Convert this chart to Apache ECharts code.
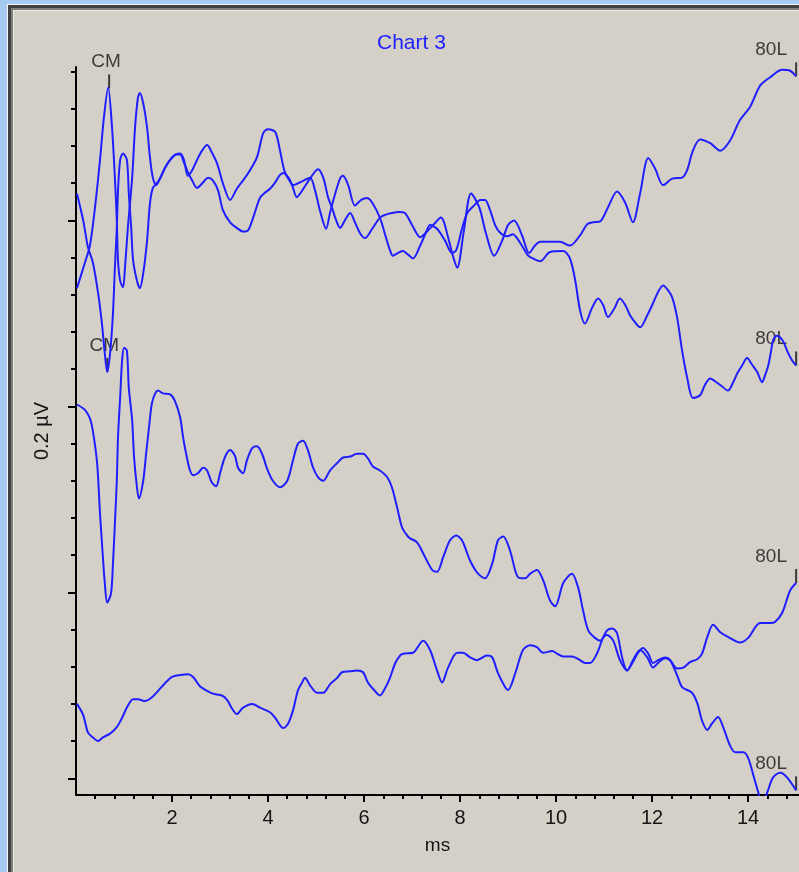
<!DOCTYPE html>
<html>
<head>
<meta charset="utf-8">
<title>Chart 3</title>
<script src="https://cdn.jsdelivr.net/npm/echarts@6/dist/echarts.min.js"></script>
<style>
  html, body { margin: 0; padding: 0; }
  body { width: 799px; height: 872px; overflow: hidden; position: relative; background: #a6caf0; }
  #frame {
    position: absolute; left: 8px; top: 5px; width: 830px; height: 900px;
    background: #d4d0c8;
    border-left: 3px solid #404040; border-top: 3px solid #404040;
    box-shadow: -1px -1px 0 #f4f4f4, inset 2px 2px 0 #808080, inset 3px 3px 0 #ebe9e4;
  }
  #chartBox { position: absolute; left: 0; top: 0; width: 799px; height: 872px; z-index: 1; }
</style>
</head>
<body>
<div id="frame"></div>
<div id="chartBox"></div>
<script>
// time in ms, amplitude in µV (one major division = 0.2 µV)
const traceA = [
  [0.02, 0.527], [0.17, 0.552], [0.29, 0.573], [0.40, 0.616], [0.50, 0.665], [0.58, 0.710], [0.67, 0.743],
  [0.75, 0.700], [0.81, 0.646], [0.85, 0.600], [0.875, 0.557], [0.92, 0.535], [0.98, 0.528], [1.02, 0.549],
  [1.08, 0.592], [1.17, 0.646], [1.23, 0.700], [1.29, 0.732], [1.33, 0.737], [1.40, 0.726], [1.48, 0.700],
  [1.54, 0.668], [1.60, 0.646], [1.67, 0.638], [1.75, 0.645], [1.85, 0.656], [1.96, 0.665], [2.08, 0.671],
  [2.17, 0.672], [2.25, 0.665], [2.33, 0.648], [2.42, 0.654], [2.52, 0.665], [2.625, 0.675], [2.73, 0.681],
  [2.83, 0.673], [2.94, 0.661], [3.06, 0.640], [3.21, 0.622], [3.35, 0.634], [3.48, 0.643], [3.625, 0.654],
  [3.77, 0.668], [3.90, 0.694], [4.0, 0.698], [4.15, 0.695], [4.25, 0.675], [4.35, 0.652], [4.5, 0.638],
  [4.60, 0.625], [4.71, 0.632], [4.875, 0.645], [5.04, 0.655], [5.15, 0.646], [5.25, 0.625], [5.33, 0.614],
  [5.42, 0.600], [5.5, 0.592], [5.60, 0.600], [5.71, 0.608], [5.81, 0.598], [5.92, 0.586], [6.02, 0.581],
  [6.17, 0.591], [6.33, 0.603], [6.44, 0.606], [6.58, 0.608], [6.73, 0.609], [6.85, 0.608], [7.0, 0.595],
  [7.17, 0.582], [7.29, 0.587], [7.44, 0.595], [7.60, 0.603], [7.77, 0.578], [7.85, 0.562], [7.94, 0.549],
  [8.08, 0.589], [8.23, 0.629], [8.40, 0.614], [8.54, 0.586], [8.71, 0.562], [8.875, 0.578], [9.0, 0.595],
  [9.125, 0.600], [9.29, 0.584], [9.44, 0.565], [9.56, 0.573], [9.67, 0.577], [9.875, 0.577], [10.08, 0.577],
  [10.29, 0.573], [10.5, 0.584], [10.65, 0.596], [10.77, 0.598], [10.92, 0.599], [11.08, 0.614], [11.27, 0.631],
  [11.44, 0.619], [11.60, 0.598], [11.75, 0.629], [11.92, 0.667], [12.06, 0.656], [12.23, 0.638], [12.42, 0.645],
  [12.625, 0.646], [12.73, 0.654], [12.85, 0.675], [13.0, 0.687], [13.21, 0.683], [13.42, 0.675], [13.625, 0.686],
  [13.83, 0.708], [14.04, 0.722], [14.25, 0.745], [14.46, 0.754], [14.71, 0.762], [14.875, 0.761], [15.0, 0.755]
];
const traceB = [
  [0.02, 0.629], [0.15, 0.600], [0.25, 0.571], [0.35, 0.555], [0.46, 0.522], [0.54, 0.489], [0.60, 0.457],
  [0.65, 0.437], [0.71, 0.457], [0.77, 0.500], [0.81, 0.549], [0.85, 0.592], [0.875, 0.632], [0.92, 0.665],
  [0.98, 0.672], [1.06, 0.665], [1.10, 0.629], [1.15, 0.592], [1.19, 0.557], [1.27, 0.535], [1.33, 0.527],
  [1.40, 0.543], [1.48, 0.578], [1.54, 0.618], [1.60, 0.635], [1.67, 0.639], [1.75, 0.645], [1.85, 0.656],
  [1.96, 0.665], [2.08, 0.671], [2.17, 0.671], [2.25, 0.662], [2.33, 0.652], [2.42, 0.643], [2.52, 0.635],
  [2.65, 0.641], [2.75, 0.646], [2.85, 0.643], [2.96, 0.632], [3.06, 0.611], [3.21, 0.598], [3.35, 0.592],
  [3.48, 0.588], [3.58, 0.589], [3.69, 0.603], [3.83, 0.624], [3.94, 0.630], [4.04, 0.634], [4.15, 0.641],
  [4.25, 0.649], [4.33, 0.651], [4.44, 0.645], [4.52, 0.638], [4.67, 0.641], [4.875, 0.646], [4.98, 0.632],
  [5.08, 0.611], [5.21, 0.591], [5.29, 0.608], [5.40, 0.629], [5.5, 0.645], [5.56, 0.648], [5.67, 0.638],
  [5.81, 0.616], [5.94, 0.622], [6.06, 0.624], [6.17, 0.619], [6.33, 0.603], [6.46, 0.581], [6.54, 0.568],
  [6.60, 0.562], [6.71, 0.565], [6.81, 0.567], [6.92, 0.563], [7.02, 0.559], [7.17, 0.573], [7.29, 0.587],
  [7.375, 0.595], [7.52, 0.591], [7.69, 0.578], [7.83, 0.565], [7.92, 0.568], [8.04, 0.591], [8.15, 0.608],
  [8.31, 0.617], [8.42, 0.622], [8.52, 0.622], [8.625, 0.611], [8.73, 0.595], [8.83, 0.587], [8.98, 0.583],
  [9.10, 0.585], [9.25, 0.576], [9.42, 0.562], [9.52, 0.559], [9.67, 0.556], [9.875, 0.566], [10.15, 0.567],
  [10.29, 0.559], [10.40, 0.535], [10.5, 0.503], [10.60, 0.489], [10.75, 0.506], [10.875, 0.516], [10.98, 0.509],
  [11.08, 0.496], [11.21, 0.505], [11.33, 0.516], [11.44, 0.509], [11.54, 0.498], [11.65, 0.490], [11.75, 0.485],
  [11.90, 0.498], [12.02, 0.511], [12.125, 0.523], [12.23, 0.530], [12.33, 0.525], [12.42, 0.517], [12.52, 0.496],
  [12.625, 0.460], [12.73, 0.431], [12.85, 0.409], [13.0, 0.412], [13.10, 0.423], [13.21, 0.430], [13.31, 0.427],
  [13.42, 0.423], [13.58, 0.417], [13.69, 0.426], [13.77, 0.435], [13.875, 0.444], [13.98, 0.452], [14.08, 0.445],
  [14.19, 0.437], [14.29, 0.426], [14.35, 0.433], [14.42, 0.444], [14.48, 0.460], [14.52, 0.471], [14.60, 0.476],
  [14.67, 0.474], [14.75, 0.468], [14.81, 0.460], [14.92, 0.449], [15.0, 0.444]
];
const traceC = [
  [0.02, 0.402], [0.19, 0.396], [0.29, 0.387], [0.35, 0.374], [0.44, 0.339], [0.50, 0.285], [0.56, 0.238],
  [0.60, 0.210], [0.65, 0.189], [0.73, 0.199], [0.77, 0.231], [0.81, 0.274], [0.85, 0.320], [0.875, 0.367],
  [0.92, 0.410], [0.96, 0.449], [1.0, 0.463], [1.06, 0.460], [1.10, 0.420], [1.17, 0.385], [1.21, 0.345],
  [1.27, 0.313], [1.31, 0.301], [1.40, 0.320], [1.46, 0.349], [1.52, 0.377], [1.58, 0.403], [1.65, 0.414],
  [1.71, 0.417], [1.81, 0.414], [1.96, 0.413], [2.06, 0.406], [2.17, 0.388], [2.23, 0.367], [2.31, 0.345],
  [2.375, 0.331], [2.44, 0.326], [2.54, 0.328], [2.65, 0.334], [2.73, 0.331], [2.83, 0.318], [2.92, 0.314],
  [3.0, 0.328], [3.10, 0.345], [3.21, 0.353], [3.31, 0.347], [3.375, 0.334], [3.48, 0.328], [3.56, 0.342],
  [3.67, 0.355], [3.77, 0.357], [3.875, 0.349], [3.98, 0.333], [4.10, 0.320], [4.25, 0.313], [4.40, 0.320],
  [4.52, 0.342], [4.625, 0.360], [4.73, 0.363], [4.83, 0.353], [4.94, 0.334], [5.04, 0.324], [5.15, 0.320],
  [5.29, 0.331], [5.44, 0.339], [5.56, 0.345], [5.71, 0.346], [5.85, 0.349], [5.98, 0.349], [6.08, 0.344],
  [6.19, 0.335], [6.33, 0.331], [6.48, 0.324], [6.58, 0.313], [6.69, 0.291], [6.79, 0.270], [6.90, 0.261],
  [6.96, 0.258], [7.10, 0.254], [7.23, 0.242], [7.42, 0.224], [7.52, 0.222], [7.65, 0.238], [7.79, 0.256],
  [7.92, 0.261], [8.04, 0.256], [8.21, 0.234], [8.375, 0.220], [8.52, 0.215], [8.67, 0.231], [8.79, 0.256],
  [8.90, 0.260], [9.04, 0.245], [9.21, 0.216], [9.35, 0.215], [9.46, 0.220], [9.60, 0.224], [9.73, 0.213],
  [9.875, 0.191], [9.98, 0.185], [10.15, 0.210], [10.33, 0.220], [10.46, 0.205], [10.56, 0.181], [10.67, 0.159],
  [10.81, 0.151], [10.92, 0.148], [11.06, 0.159], [11.17, 0.161], [11.27, 0.156], [11.375, 0.130], [11.48, 0.116],
  [11.60, 0.125], [11.71, 0.135], [11.81, 0.140], [11.92, 0.134], [12.02, 0.124], [12.125, 0.127], [12.27, 0.130],
  [12.375, 0.127], [12.52, 0.111], [12.625, 0.098], [12.83, 0.092], [12.94, 0.081], [13.04, 0.062], [13.15, 0.052],
  [13.25, 0.059], [13.375, 0.066], [13.48, 0.055], [13.625, 0.035], [13.73, 0.028], [13.90, 0.028], [14.0, 0.022],
  [14.10, 0.005], [14.21, -0.015], [14.29, -0.029], [14.40, -0.015], [14.52, 0.001], [14.67, 0.006], [14.81, 0.001],
  [15.0, -0.013]
];
const traceD = [
  [0.02, 0.080], [0.15, 0.068], [0.25, 0.049], [0.35, 0.044], [0.46, 0.040], [0.56, 0.044], [0.71, 0.048],
  [0.85, 0.055], [0.96, 0.065], [1.06, 0.076], [1.19, 0.085], [1.29, 0.085], [1.44, 0.083], [1.58, 0.087],
  [1.71, 0.094], [1.85, 0.102], [2.0, 0.109], [2.17, 0.111], [2.33, 0.112], [2.44, 0.109], [2.58, 0.099],
  [2.73, 0.094], [2.85, 0.091], [3.04, 0.089], [3.15, 0.084], [3.25, 0.075], [3.35, 0.069], [3.48, 0.076],
  [3.67, 0.080], [3.83, 0.076], [4.04, 0.071], [4.15, 0.065], [4.25, 0.057], [4.31, 0.054], [4.42, 0.059],
  [4.52, 0.073], [4.625, 0.095], [4.71, 0.103], [4.77, 0.108], [4.875, 0.100], [5.02, 0.092], [5.15, 0.092],
  [5.29, 0.101], [5.44, 0.108], [5.54, 0.114], [5.71, 0.115], [5.85, 0.116], [5.98, 0.114], [6.08, 0.103],
  [6.19, 0.096], [6.33, 0.089], [6.44, 0.097], [6.54, 0.108], [6.65, 0.124], [6.75, 0.132], [6.81, 0.134],
  [7.02, 0.135], [7.23, 0.148], [7.375, 0.138], [7.52, 0.116], [7.625, 0.103], [7.75, 0.119], [7.94, 0.135],
  [8.06, 0.135], [8.21, 0.130], [8.35, 0.127], [8.56, 0.132], [8.67, 0.130], [8.79, 0.113], [8.94, 0.098],
  [9.0, 0.095], [9.15, 0.113], [9.31, 0.138], [9.46, 0.143], [9.60, 0.141], [9.73, 0.135], [9.92, 0.137],
  [10.02, 0.134], [10.15, 0.131], [10.33, 0.131], [10.5, 0.127], [10.60, 0.124], [10.71, 0.124], [10.85, 0.134],
  [10.98, 0.151], [11.06, 0.154], [11.19, 0.148], [11.33, 0.127], [11.48, 0.116], [11.60, 0.127], [11.75, 0.138],
  [11.90, 0.130], [12.02, 0.119], [12.125, 0.124], [12.27, 0.129], [12.375, 0.127], [12.52, 0.118], [12.65, 0.119],
  [12.79, 0.125], [12.94, 0.128], [13.04, 0.134], [13.15, 0.152], [13.27, 0.165], [13.42, 0.157], [13.58, 0.152],
  [13.83, 0.146], [14.0, 0.151], [14.25, 0.167], [14.46, 0.167], [14.56, 0.168], [14.71, 0.178], [14.875, 0.202],
  [15.0, 0.210]
];

// wave markers
const cmMarks = [[0.69, 0.742], [0.65, 0.437]];
const endMarks = [[15.0, 0.755], [15.0, 0.444], [15.0, 0.210], [15.0, -0.013]];

// axis ticks
const xMajorTicks = [2, 4, 6, 8, 10, 12, 14];
const xMinorTicks = [0.4, 0.8, 1.2, 1.6, 2.4, 2.8, 3.2, 3.6, 4.4, 4.8, 5.2, 5.6, 6.4, 6.8, 7.2, 7.6,
  8.4, 8.8, 9.2, 9.6, 10.4, 10.8, 11.2, 11.6, 12.4, 12.8, 13.2, 13.6, 14.4, 14.8];
const yMajorTicks = [0, 0.2, 0.4, 0.6];
const yMinorTicks = [0.04, 0.08, 0.12, 0.16, 0.24, 0.28, 0.32, 0.36, 0.44, 0.48, 0.52, 0.56,
  0.64, 0.68, 0.72, 0.76];

const font = 'Liberation Sans, Arial, sans-serif';
const blue = '#1e1eff';
const ink = '#141414';
const xMin = 0, xMax = 15.06, yMin = -0.018, yMax = 0.765;

let myChart = echarts.init(document.getElementById('chartBox'), null, { renderer: 'canvas' });

function trace (data) {
  return {
    type: 'line',
    data: data,
    showSymbol: false,
    smooth: 0.3,
    clip: true,
    lineStyle: { color: blue, width: 2 },
    silent: true
  };
}

function marks (data, text, dx) {
  return {
    type: 'scatter',
    data: data,
    symbol: 'rect',
    symbolSize: [2, 14],
    symbolOffset: [0, -7],
    itemStyle: { color: ink },
    clip: false,
    silent: true,
    label: {
      show: true,
      position: 'top',
      distance: 3,
      offset: [dx, 0],
      formatter: text,
      color: ink,
      fontSize: 19,
      fontFamily: font
    }
  };
}

myChart.setOption({
  animation: false,
  backgroundColor: 'transparent',
  title: {
    text: 'Chart 3',
    left: 377,
    top: 33,
    padding: 0,
    textStyle: { color: blue, fontSize: 21, fontWeight: 'normal', fontFamily: font }
  },
  grid: { left: 76, right: 0, top: 67, bottom: 77 },
  xAxis: [
    {
      type: 'value', position: 'bottom', min: xMin, max: xMax,
      name: 'ms', nameLocation: 'middle', nameGap: 41,
      nameTextStyle: { color: ink, fontSize: 19, fontFamily: font },
      axisLine: { onZero: false, lineStyle: { color: '#000', width: 2 } },
      axisTick: { customValues: xMajorTicks, length: 7, lineStyle: { color: '#000', width: 2 } },
      axisLabel: { customValues: xMajorTicks, color: ink, fontSize: 20, fontFamily: font, margin: 13 },
      splitLine: { show: false }
    },
    {
      type: 'value', position: 'bottom', min: xMin, max: xMax,
      axisLine: { show: false, onZero: false },
      axisTick: { customValues: xMinorTicks, length: 4, lineStyle: { color: '#000', width: 2 } },
      axisLabel: { show: false },
      splitLine: { show: false }
    }
  ],
  yAxis: [
    {
      type: 'value', position: 'left', min: yMin, max: yMax,
      name: '0.2 µV', nameLocation: 'middle', nameGap: 24,
      nameTextStyle: { color: ink, fontSize: 20, fontFamily: font },
      axisLine: { onZero: false, lineStyle: { color: '#000', width: 2 } },
      axisTick: { customValues: yMajorTicks, length: 8, lineStyle: { color: '#000', width: 2 } },
      axisLabel: { show: false },
      splitLine: { show: false }
    },
    {
      type: 'value', position: 'left', min: yMin, max: yMax,
      axisLine: { show: false, onZero: false },
      axisTick: { customValues: yMinorTicks, length: 5, lineStyle: { color: '#000', width: 2 } },
      axisLabel: { show: false },
      splitLine: { show: false }
    }
  ],
  series: [
    trace(traceA),
    trace(traceB),
    trace(traceC),
    trace(traceD),
    marks(cmMarks, 'CM', -3),
    marks(endMarks, '80L', -25)
  ]
});
</script>
</body>
</html>
